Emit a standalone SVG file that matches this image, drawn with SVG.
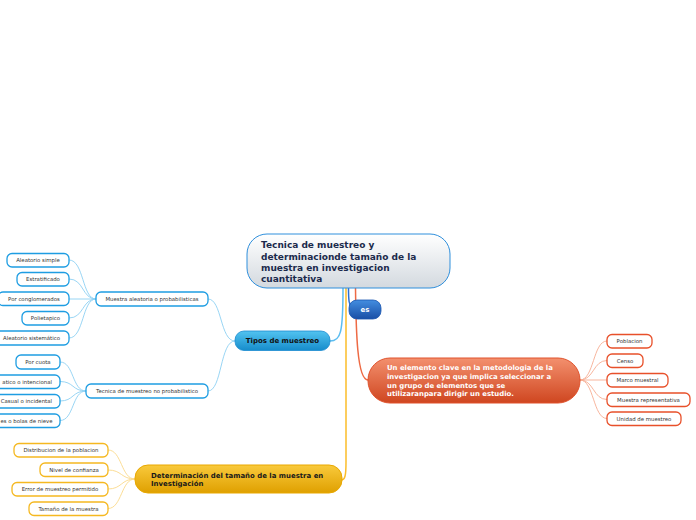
<svg xmlns="http://www.w3.org/2000/svg" width="696" height="520" viewBox="0 0 696 520">
<defs>
<linearGradient id="gCentral" x1="0" y1="0" x2="0" y2="1"><stop offset="0" stop-color="#ffffff"/><stop offset="1" stop-color="#d3d9df"/></linearGradient>
<linearGradient id="gBlue" x1="0" y1="0" x2="0" y2="1"><stop offset="0" stop-color="#52c3f0"/><stop offset="1" stop-color="#168ccb"/></linearGradient>
<linearGradient id="gEs" x1="0" y1="0" x2="0" y2="1"><stop offset="0" stop-color="#438ee0"/><stop offset="1" stop-color="#1a4fa6"/></linearGradient>
<linearGradient id="gRed" x1="0" y1="0" x2="0" y2="1"><stop offset="0" stop-color="#f3906e"/><stop offset="1" stop-color="#cf4620"/></linearGradient>
<linearGradient id="gGold" x1="0" y1="0" x2="0" y2="1"><stop offset="0" stop-color="#f9ca3c"/><stop offset="1" stop-color="#dfa000"/></linearGradient>
</defs>
<style>
.t{font-family:"DejaVu Sans",Verdana,sans-serif;font-weight:bold}
.c{font-family:"DejaVu Sans",Verdana,sans-serif;font-size:5.4px;fill:#333;text-anchor:middle}
.ce{font-family:"DejaVu Sans",Verdana,sans-serif;font-size:5.4px;fill:#333;text-anchor:end}
.bb{fill:#fff;stroke:#1e9de2;stroke-width:1.3}
.rb{fill:#fff;stroke:#e8502a;stroke-width:1.3}
.gb{fill:#fff;stroke:#f5b820;stroke-width:1.3}
.lb{fill:none;stroke:#8dd0f3;stroke-width:0.9}
.lr{fill:none;stroke:#f6ad92;stroke-width:0.9}
.lg{fill:none;stroke:#fbd98a;stroke-width:0.9}
</style>
<g id="connectors">
<path d="M343,288 C343,332 341,341 330,341" fill="none" stroke="#5cbdf0" stroke-width="1.5"/>
<path d="M346,288 L346,462 C346,476 345,480 341,480" fill="none" stroke="#fbbd2a" stroke-width="1.5"/>
<path d="M348.5,288 C348.5,300 349,305 352,309" fill="none" stroke="#2d6fcf" stroke-width="1.5"/>
<path d="M355.5,288 C356,330 357,380 368,380" fill="none" stroke="#ee6a44" stroke-width="1.5"/>
<path class="lb" d="M235,341 C220,341 222,299 208,299"/>
<path class="lb" d="M235,341 C220,341 222,391 208,391"/>
<path class="lb" d="M96,299 C82,299 84,260 69,260"/>
<path class="lb" d="M96,299 C82,299 84,279 69,279"/>
<path class="lb" d="M96,299 L69,299"/>
<path class="lb" d="M96,299 C82,299 84,318 69,318"/>
<path class="lb" d="M96,299 C82,299 84,338 69,338"/>
<path class="lb" d="M86,391 C72,391 74,362 60,362"/>
<path class="lb" d="M86,391 C72,391 74,381.5 60,381.5"/>
<path class="lb" d="M86,391 C72,391 74,401 60,401"/>
<path class="lb" d="M86,391 C72,391 74,420.5 60,420.5"/>
<path class="lr" d="M580,380 C594,380 593,341 607,341"/>
<path class="lr" d="M580,380 C594,380 593,360.5 607,360.5"/>
<path class="lr" d="M580,380 L607,380"/>
<path class="lr" d="M580,380 C594,380 593,399.5 607,399.5"/>
<path class="lr" d="M580,380 C594,380 593,418.5 607,418.5"/>
<path class="lg" d="M135,479 C121,479 122,450 108,450"/>
<path class="lg" d="M135,479 C121,479 122,470 108,470"/>
<path class="lg" d="M135,479 C121,479 122,489 108,489"/>
<path class="lg" d="M135,479 C121,479 122,508.5 108,508.5"/>
</g>
<g id="central">
<rect x="247" y="234" width="203" height="54" rx="20" fill="url(#gCentral)" stroke="#2f8fdc" stroke-width="1"/>
<text class="t" font-size="9" fill="#1b2a4c"><tspan x="261" y="248">Tecnica de muestreo y</tspan><tspan x="261" y="259.5">determinacionde tamaño de la</tspan><tspan x="261" y="270.5">muestra en investigacion</tspan><tspan x="261" y="281.5">cuantitativa</tspan></text>
</g>
<g id="tipos">
<rect x="235" y="331" width="95" height="19.5" rx="9" fill="url(#gBlue)" stroke="#1a8bd0" stroke-width="0.8"/>
<text class="t" font-size="7" fill="#111" x="282.5" y="343.3" text-anchor="middle">Tipos de muestreo</text>
</g>
<g id="es">
<rect x="349" y="300" width="32" height="19" rx="8" fill="url(#gEs)" stroke="#1a55b0" stroke-width="0.8"/>
<text class="t" font-size="7" fill="#fff" x="365" y="312.3" text-anchor="middle">es</text>
</g>
<g id="elemento">
<rect x="368" y="358" width="212" height="45" rx="22" fill="url(#gRed)" stroke="#e0522c" stroke-width="1"/>
<text class="t" font-size="6.9" fill="#fff"><tspan x="387" y="370.3">Un elemento clave en la metodologia de la</tspan><tspan x="387" y="379">investigacion ya que implica seleccionar a</tspan><tspan x="387" y="387.5">un grupo de elementos que se</tspan><tspan x="387" y="396">utilizaranpara dirigir un estudio.</tspan></text>
</g>
<g id="determinacion">
<rect x="135" y="465" width="207" height="28" rx="13" fill="url(#gGold)" stroke="#e9a800" stroke-width="1"/>
<text class="t" font-size="6.95" fill="#1a1a1a"><tspan x="151" y="477.5">Determinación del tamaño de la muestra en</tspan><tspan x="151" y="485.5">Investigación</tspan></text>
</g>
<g id="muestra-aleatoria"><rect class="bb" x="96" y="292" width="112" height="14" rx="5"/><text class="c" x="152" y="301">Muestra aleatoria o probabilisticas</text></g>
<g id="aleatorio-simple"><rect class="bb" x="7" y="253.5" width="62" height="13.5" rx="5"/><text class="c" x="38" y="262.2">Aleatorio simple</text></g>
<g id="estratificado"><rect class="bb" x="17" y="272.5" width="52" height="13.5" rx="5"/><text class="c" x="43" y="281.2">Estratificado</text></g>
<g id="conglomerados"><rect class="bb" x="-2" y="292" width="71" height="13.5" rx="5"/><text class="c" x="34" y="300.7">Por conglomerados</text></g>
<g id="polietapico"><rect class="bb" x="22" y="311.5" width="47" height="13.5" rx="5"/><text class="c" x="45.5" y="320.2">Polietapico</text></g>
<g id="sistematico"><rect class="bb" x="-5" y="331" width="74" height="14" rx="5"/><text class="c" x="31.5" y="340">Aleatorio sistemático</text></g>
<g id="no-probabilistico"><rect class="bb" x="86" y="384" width="122" height="14" rx="5"/><text class="c" x="147" y="393">Tecnica de muestreo no probabilistico</text></g>
<g id="por-cuota"><rect class="bb" x="16" y="355" width="44" height="14" rx="5"/><text class="c" x="38" y="364">Por cuota</text></g>
<g id="intencional"><rect class="bb" x="-10" y="375" width="70" height="13.5" rx="5"/><text class="ce" x="52" y="383.7">atico o intencional</text></g>
<g id="casual"><rect class="bb" x="-10" y="394.5" width="70" height="13.5" rx="5"/><text class="ce" x="52" y="403.2">Casual o incidental</text></g>
<g id="bolas"><rect class="bb" x="-10" y="414" width="70" height="13.5" rx="5"/><text class="ce" x="52.5" y="422.7">es o bolas de nieve</text></g>
<g id="poblacion"><rect class="rb" x="607" y="334.5" width="45" height="13.5" rx="5"/><text class="c" x="629.5" y="343.2">Poblacion</text></g>
<g id="censo"><rect class="rb" x="607" y="354" width="36" height="13.5" rx="5"/><text class="c" x="625" y="362.7">Censo</text></g>
<g id="marco"><rect class="rb" x="607" y="373.5" width="61" height="13.5" rx="5"/><text class="c" x="637.5" y="382.2">Marco muestral</text></g>
<g id="representativa"><rect class="rb" x="607" y="393" width="83" height="13.5" rx="5"/><text class="c" x="648.5" y="401.7">Muestra representativa</text></g>
<g id="unidad"><rect class="rb" x="607" y="412" width="74" height="13.5" rx="5"/><text class="c" x="644" y="420.7">Unidad de muestreo</text></g>
<g id="distribucion"><rect class="gb" x="14" y="443.5" width="94" height="13.5" rx="5"/><text class="c" x="61" y="452.2">Distribucion de la poblacion</text></g>
<g id="confianza"><rect class="gb" x="40" y="463" width="68" height="13.5" rx="5"/><text class="c" x="74" y="471.7">Nivel de confianza</text></g>
<g id="error"><rect class="gb" x="12" y="482.5" width="96" height="13.5" rx="5"/><text class="c" x="60" y="491.2">Error de muestreo permitido</text></g>
<g id="tamano"><rect class="gb" x="29" y="502" width="79" height="13.5" rx="5"/><text class="c" x="68.5" y="510.7">Tamaño de la muestra</text></g>
</svg>
